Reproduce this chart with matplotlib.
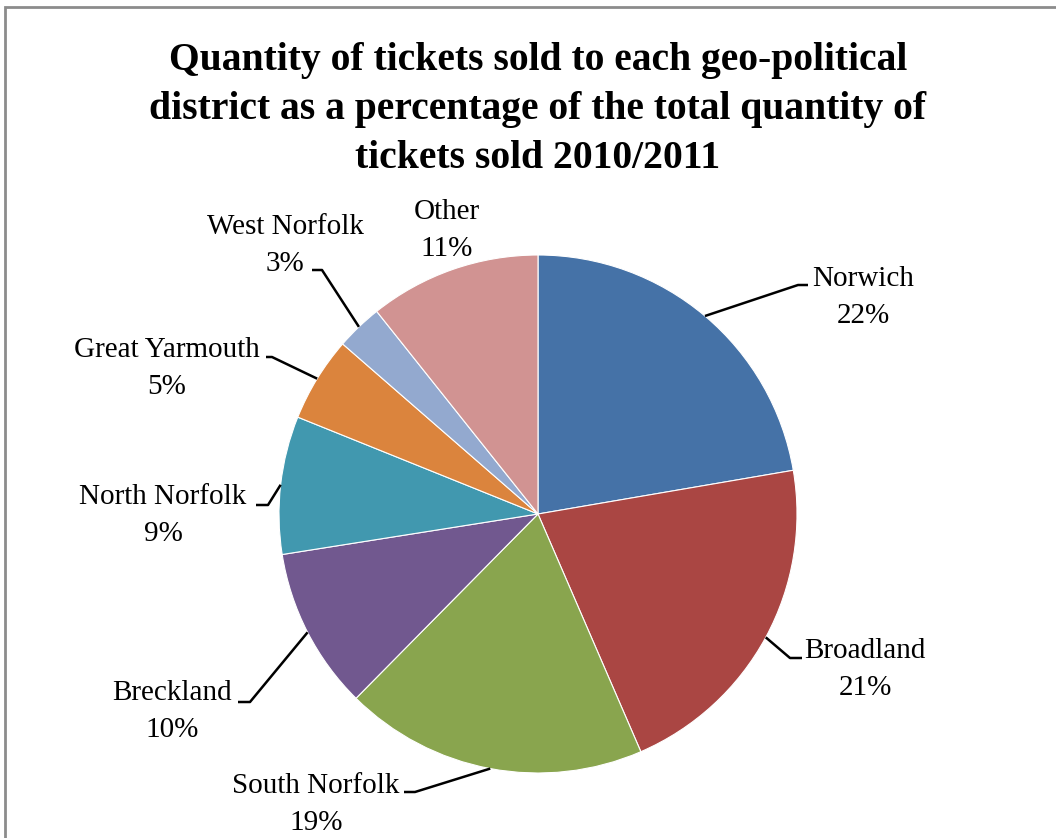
import matplotlib
matplotlib.use("Agg")
import matplotlib.pyplot as plt
from matplotlib.patches import Rectangle
import numpy as np

# ---- data ----
categories = ["Norwich", "Broadland", "South Norfolk", "Breckland",
              "North Norfolk", "Great Yarmouth", "West Norfolk", "Other"]
shares = [22.3, 21.2, 18.9, 10.1, 8.6, 5.3, 2.9, 10.7]
colors = ["#4572A7", "#AA4643", "#89A54E", "#71588F",
          "#4198AF", "#DB843D", "#93A9CF", "#D19392"]
title_lines = ["Quantity of tickets sold to each geo-political",
               "district as a percentage of the total quantity of",
               "tickets sold 2010/2011"]

W, H = 1056, 838
plt.rcParams['font.family'] = ['Liberation Serif', 'DejaVu Serif']
fig = plt.figure(figsize=(W / 100, H / 100), dpi=100)
ax = fig.add_axes([0, 0, 1, 1])

def py(y_img):
    return H - y_img

cx, cy, R = 538, py(514), 259
wedges, _ = ax.pie(shares, colors=colors, startangle=90, counterclock=False,
                   center=(cx, cy), radius=R, frame=True,
                   wedgeprops=dict(edgecolor="white", linewidth=0.8))
ax.set_xlim(0, W)
ax.set_ylim(0, H)
ax.axis("off")

# border
ax.add_patch(Rectangle((5, -20), W + 40, py(7) + 20, fill=False,
                       edgecolor="#8c8c8c", linewidth=2, zorder=5))

for i, line in enumerate(title_lines):
    ax.text(538, py(61 + 49 * i), line, ha="center", va="center",
            fontsize=28.5, fontweight="bold")

# label layout: (text centre x, line1 centre y, elbow point, end point)
layout = {
    "Norwich":        dict(tx=863, ty=279, elbow=(798, 285), end=(808, 285)),
    "Broadland":      dict(tx=865, ty=651, elbow=(790, 658), end=(802, 658)),
    "South Norfolk":  dict(tx=316, ty=786, elbow=(415, 792), end=(404, 792)),
    "Breckland":      dict(tx=172, ty=693, elbow=(250, 702), end=(238, 702)),
    "North Norfolk":  dict(tx=163, ty=497, elbow=(268, 505), end=(256, 505)),
    "Great Yarmouth": dict(tx=167, ty=350, elbow=(272, 357), end=(266, 357)),
    "West Norfolk":   dict(tx=285, ty=227, elbow=(322, 270), end=(312, 270)),
    "Other":          dict(tx=447, ty=212, elbow=None, end=None),
}

cum = 0.0
total = sum(shares)
for name, val in zip(categories, shares):
    mid = 90 - (cum + val / 2) / total * 360
    cum += val
    L = layout[name]
    pct = f"{round(val / total * 100):.0f}%"
    ax.text(L["tx"], py(L["ty"]), name, ha="center", va="center", fontsize=21)
    ax.text(L["tx"], py(L["ty"] + 37), pct, ha="center", va="center", fontsize=21)
    if L["elbow"] is not None:
        ex = cx + R * np.cos(np.radians(mid))
        ey = cy + R * np.sin(np.radians(mid))
        ax.plot([ex, L["elbow"][0], L["end"][0]],
                [ey, py(L["elbow"][1]), py(L["end"][1])],
                color="black", linewidth=1.8, solid_capstyle="butt", zorder=4)

fig.savefig("out.png", dpi=100, facecolor="white")
